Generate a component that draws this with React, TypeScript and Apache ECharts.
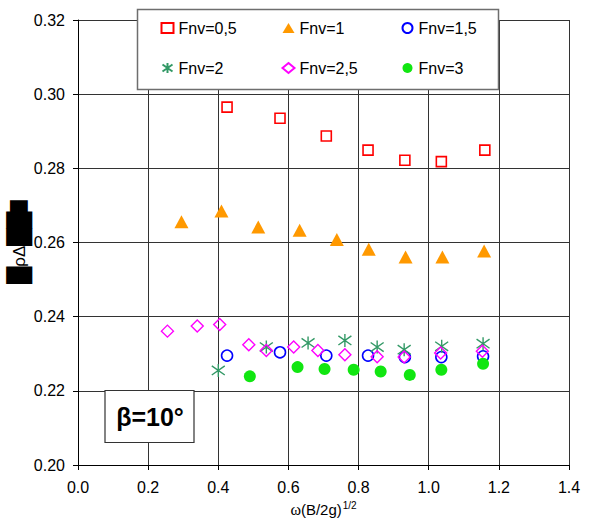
import React, { useEffect, useRef } from "react";
import * as echarts from "echarts";

const seriesNames = ["Fnv=0,5", "Fnv=1", "Fnv=1,5", "Fnv=2", "Fnv=2,5", "Fnv=3"];

const fnv05X = [0.425, 0.576, 0.708, 0.827, 0.932, 1.036, 1.16];
const fnv05Y = [0.2965, 0.2935, 0.2887, 0.2849, 0.2822, 0.2818, 0.2849];

const fnv1X = [0.295, 0.409, 0.514, 0.632, 0.738, 0.829, 0.934, 1.039, 1.158];
const fnv1Y = [0.2656, 0.2685, 0.2642, 0.2633, 0.2608, 0.2582, 0.2561, 0.2561, 0.2577];

const fnv15X = [0.425, 0.576, 0.708, 0.827, 0.932, 1.036, 1.155];
const fnv15Y = [0.2295, 0.2304, 0.2295, 0.2295, 0.2291, 0.2291, 0.2293];

const fnv2X = [0.4, 0.537, 0.656, 0.761, 0.853, 0.93, 1.037, 1.155];
const fnv2Y = [0.2255, 0.2318, 0.2329, 0.2336, 0.2318, 0.2311, 0.232, 0.2327];

const fnv25X = [0.255, 0.34, 0.404, 0.487, 0.537, 0.615, 0.684, 0.761, 0.853, 0.93, 1.034, 1.153];
const fnv25Y = [0.2361, 0.2375, 0.2379, 0.2324, 0.2309, 0.2318, 0.2309, 0.2297, 0.2292, 0.2291, 0.2302, 0.2307];

const fnv3X = [0.49, 0.626, 0.703, 0.786, 0.863, 0.946, 1.036, 1.155];
const fnv3Y = [0.2239, 0.2264, 0.2259, 0.2257, 0.2252, 0.2243, 0.2257, 0.2273];

const xMin = 0, xMax = 1.4, xStep = 0.2;
const yMin = 0.2, yMax = 0.32, yStep = 0.02;

const xTitle = "ω(B/2g)";
const xTitleSup = "1/2";
const yTitleParts = ["█", "ρΔ", "██", "█"];
const boxLabel = "β=10°";

const FONT = "'Liberation Sans', Arial, sans-serif";

const zip = (xs: number[], ys: number[]) => xs.map((x, i) => [x, ys[i]]);

const asterisk = "path://M0,1.5L10,8.5M0,8.5L10,1.5M5,0L5,10";

export default function App() {
  const ref = useRef<HTMLDivElement>(null);
  useEffect(() => {
    document.body.style.margin = "0";
    const chart = echarts.init(ref.current!, undefined, { renderer: "svg" });
    const legendCommon = {
      orient: "vertical",
      top: 20,
      itemWidth: 12,
      itemHeight: 10,
      itemGap: 24,
      padding: 0,
      textStyle: { fontSize: 16, color: "#000", fontFamily: FONT },
      z: 10,
    };
    chart.setOption({
      animation: false,
      backgroundColor: "#fff",
      grid: { left: 78, top: 20, width: 491, height: 445, containLabel: false },
      xAxis: {
        type: "value",
        min: xMin,
        max: xMax,
        interval: xStep,
        axisLine: { show: true, lineStyle: { color: "#000", width: 1 } },
        axisTick: { show: true, length: 5, lineStyle: { color: "#000" } },
        axisLabel: {
          fontSize: 16,
          color: "#000",
          fontFamily: FONT,
          margin: 14,
          formatter: (v: number) => v.toFixed(1),
        },
        splitLine: { show: true, lineStyle: { color: "#333", width: 1 } },
        name: `{w|ω}(B/2g){sup|${xTitleSup}}`,
        nameLocation: "middle",
        nameGap: 35,
        nameTextStyle: {
          fontSize: 15,
          color: "#000",
          fontFamily: FONT,
          rich: {
            w: { fontSize: 16, fontFamily: "'Liberation Serif', serif", color: "#000" },
            sup: { fontSize: 10, fontFamily: FONT, color: "#000", padding: [0, 0, 9, 1] },
          },
        },
      },
      yAxis: {
        type: "value",
        min: yMin,
        max: yMax,
        interval: yStep,
        axisLine: { show: true, lineStyle: { color: "#000", width: 1 } },
        axisTick: { show: true, length: 5, lineStyle: { color: "#000" } },
        axisLabel: {
          fontSize: 16,
          color: "#000",
          fontFamily: FONT,
          margin: 13,
          formatter: (v: number) => v.toFixed(2),
        },
        splitLine: { show: true, lineStyle: { color: "#333", width: 1 } },
      },
      legend: [
        { ...legendCommon, left: 159, data: [seriesNames[0], seriesNames[3]] },
        { ...legendCommon, left: 280, data: [seriesNames[1], seriesNames[4]] },
        { ...legendCommon, left: 400, data: [seriesNames[2], seriesNames[5]] },
      ],
      graphic: [
        {
          type: "rect",
          shape: { x: 137.5, y: 9.5, width: 361, height: 80 },
          style: { fill: "#fff", stroke: "#6e6e6e", lineWidth: 1.5 },
          z: 5,
        },
        {
          type: "rect",
          shape: { x: 105, y: 390.5, width: 89, height: 52 },
          style: { fill: "#fff", stroke: "#333", lineWidth: 1.2 },
          z: 5,
        },
        {
          type: "text",
          x: 150,
          y: 417,
          z: 6,
          style: {
            text: boxLabel,
            fontSize: 25,
            fontWeight: "bold",
            fontFamily: FONT,
            fill: "#000",
            align: "center",
            verticalAlign: "middle",
          },
        },
        {
          type: "text",
          x: 19,
          y: 242,
          rotation: Math.PI / 2,
          z: 6,
          style: {
            text: `{b|${yTitleParts[0]}}{s|${yTitleParts[1]}}{b|${yTitleParts[2]}}{n|${yTitleParts[3]}}`,
            align: "center",
            verticalAlign: "middle",
            rich: {
              b: { fontSize: 22, fontFamily: "'DejaVu Sans'", fill: "#000" },
              n: { fontSize: 15, fontFamily: "'DejaVu Sans'", fill: "#000" },
              s: { fontSize: 17, fontFamily: FONT, fill: "#000" },
            },
          },
        },
      ],
      series: [
        {
          name: seriesNames[0],
          type: "scatter",
          symbol: "rect",
          symbolSize: 10,
          data: zip(fnv05X, fnv05Y),
          itemStyle: { color: "none", borderColor: "#ff0000", borderWidth: 1.6, opacity: 1 },
        },
        {
          name: seriesNames[1],
          type: "scatter",
          symbol: "triangle",
          symbolSize: [14, 13],
          data: zip(fnv1X, fnv1Y),
          itemStyle: { color: "#ff9900", opacity: 1 },
        },
        {
          name: seriesNames[2],
          type: "scatter",
          symbol: "circle",
          symbolSize: 11,
          data: zip(fnv15X, fnv15Y),
          itemStyle: { color: "none", borderColor: "#0000ff", borderWidth: 1.6, opacity: 1 },
        },
        {
          name: seriesNames[3],
          type: "scatter",
          symbol: asterisk,
          symbolSize: 13,
          data: zip(fnv2X, fnv2Y),
          itemStyle: { color: "none", borderColor: "#339966", borderWidth: 1.4, opacity: 1 },
        },
        {
          name: seriesNames[4],
          type: "scatter",
          symbol: "diamond",
          symbolSize: 12,
          data: zip(fnv25X, fnv25Y),
          itemStyle: { color: "none", borderColor: "#ff00ff", borderWidth: 1.4, opacity: 1 },
        },
        {
          name: seriesNames[5],
          type: "scatter",
          symbol: "circle",
          symbolSize: 12,
          data: zip(fnv3X, fnv3Y),
          itemStyle: { color: "#11e611", opacity: 1 },
        },
      ],
    });
    return () => chart.dispose();
  }, []);
  return <div ref={ref} style={{ width: 590, height: 525 }} />;
}
